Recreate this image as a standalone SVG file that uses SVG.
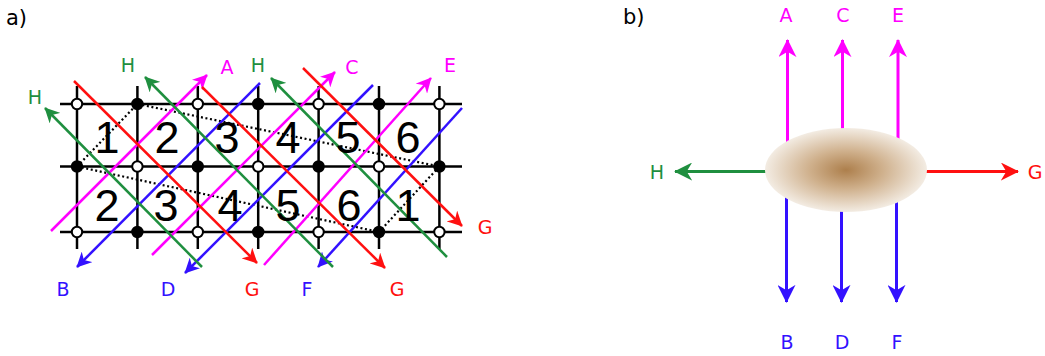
<svg xmlns="http://www.w3.org/2000/svg" width="1045" height="356" viewBox="0 0 1045 356">
<style>
.grid{stroke:#000;stroke-width:2.5;fill:none}
.dot{stroke:#000;stroke-width:2.2;stroke-dasharray:2 2.6;fill:none}
.m{stroke:#ff00ff;stroke-width:2.5;fill:none}
.r{stroke:#ff1010;stroke-width:2.5;fill:none}
.g{stroke:#1f8f3f;stroke-width:2.5;fill:none}
.b{stroke:#3311ff;stroke-width:2.5;fill:none}
.thick{stroke-width:3}
.open{fill:#fff;stroke:#000;stroke-width:2}
.fill{fill:#000;stroke:#000;stroke-width:2}
.lbl{font-family:"DejaVu Sans",sans-serif;font-size:19px;text-anchor:middle}
.num{font-family:"Liberation Sans",sans-serif;font-size:45px;text-anchor:middle;fill:#000}
.pan{font-family:"DejaVu Sans",sans-serif;font-size:21px;fill:#000}
.tm{fill:#ff00ff}.tr{fill:#ff1010}.tg{fill:#1f8f3f}.tb{fill:#3311ff}
</style>
<defs>
<marker id="am" viewBox="0 0 10 10" refX="9.5" refY="5" markerWidth="6" markerHeight="6" orient="auto" markerUnits="strokeWidth"><path d="M0,0 L10,5 L0,10 L3,5 z" fill="#ff00ff"/></marker>
<marker id="ar" viewBox="0 0 10 10" refX="9.5" refY="5" markerWidth="6" markerHeight="6" orient="auto" markerUnits="strokeWidth"><path d="M0,0 L10,5 L0,10 L3,5 z" fill="#ff1010"/></marker>
<marker id="ag" viewBox="0 0 10 10" refX="9.5" refY="5" markerWidth="6" markerHeight="6" orient="auto" markerUnits="strokeWidth"><path d="M0,0 L10,5 L0,10 L3,5 z" fill="#1f8f3f"/></marker>
<marker id="ab" viewBox="0 0 10 10" refX="9.5" refY="5" markerWidth="6" markerHeight="6" orient="auto" markerUnits="strokeWidth"><path d="M0,0 L10,5 L0,10 L3,5 z" fill="#3311ff"/></marker>
<radialGradient id="blob" cx="0.5" cy="0.5" r="0.5">
<stop offset="0" stop-color="#ad7f4c"/>
<stop offset="0.45" stop-color="#cfb08c"/>
<stop offset="1" stop-color="#f3ece3"/>
</radialGradient>
</defs>

<text class="pan" x="6" y="25">a)</text>
<text class="pan" x="623" y="24">b)</text>

<g id="grid">
<line class="grid" x1="60" y1="104" x2="462" y2="104"/>
<line class="grid" x1="60" y1="166.5" x2="462" y2="166.5"/>
<line class="grid" x1="60" y1="232" x2="462" y2="232"/>
<line class="grid" x1="77" y1="86" x2="77" y2="249"/>
<line class="grid" x1="137.4" y1="86" x2="137.4" y2="249"/>
<line class="grid" x1="197.8" y1="86" x2="197.8" y2="249"/>
<line class="grid" x1="258.2" y1="86" x2="258.2" y2="249"/>
<line class="grid" x1="318.6" y1="86" x2="318.6" y2="249"/>
<line class="grid" x1="379" y1="86" x2="379" y2="249"/>
<line class="grid" x1="439.4" y1="86" x2="439.4" y2="249"/>
</g>

<g id="dotted">
<path class="dot" d="M77,166.5 L137.4,104 L439.4,166.5 L379,232 Z"/>
</g>

<g id="connectors">
<line class="m" x1="51" y1="231" x2="207" y2="75" marker-end="url(#am)"/>
<line class="m" x1="152" y1="255" x2="335" y2="72" marker-end="url(#am)"/>
<line class="m" x1="264" y1="265" x2="431" y2="78" marker-end="url(#am)"/>
<line class="b" x1="260" y1="83" x2="77" y2="267" marker-end="url(#ab)"/>
<line class="b" x1="373" y1="85" x2="185" y2="273" marker-end="url(#ab)"/>
<line class="b" x1="462" y1="108" x2="318" y2="267" marker-end="url(#ab)"/>
<line class="g" x1="202" y1="267" x2="45" y2="108" marker-end="url(#ag)"/>
<line class="g" x1="333" y1="267" x2="145" y2="77" marker-end="url(#ag)"/>
<line class="g" x1="447" y1="257" x2="271" y2="78" marker-end="url(#ag)"/>
<line class="r" x1="74" y1="81" x2="257" y2="263" marker-end="url(#ar)"/>
<line class="r" x1="202" y1="87" x2="385" y2="268" marker-end="url(#ar)"/>
<line class="r" x1="303" y1="68" x2="462" y2="226" marker-end="url(#ar)"/>

<line class="m thick" x1="787.5" y1="170" x2="787.5" y2="40" marker-end="url(#am)"/>
<line class="m thick" x1="842.5" y1="170" x2="842.5" y2="40" marker-end="url(#am)"/>
<line class="m thick" x1="898" y1="170" x2="898" y2="40" marker-end="url(#am)"/>
<line class="b thick" x1="786.5" y1="170" x2="786.5" y2="302" marker-end="url(#ab)"/>
<line class="b thick" x1="841.5" y1="170" x2="841.5" y2="302" marker-end="url(#ab)"/>
<line class="b thick" x1="896.5" y1="170" x2="896.5" y2="302" marker-end="url(#ab)"/>
<line class="g thick" x1="846" y1="171.5" x2="675" y2="171.5" marker-end="url(#ag)"/>
<line class="r thick" x1="846" y1="171.5" x2="1018" y2="171.5" marker-end="url(#ar)"/>
</g>

<g id="nodes">
<circle class="open" cx="77" cy="104" r="5.2"/>
<circle class="fill" cx="137.4" cy="104" r="5.2"/>
<circle class="open" cx="197.8" cy="104" r="5.2"/>
<circle class="fill" cx="258.2" cy="104" r="5.2"/>
<circle class="open" cx="318.6" cy="104" r="5.2"/>
<circle class="fill" cx="379" cy="104" r="5.2"/>
<circle class="open" cx="439.4" cy="104" r="5.2"/>
<circle class="fill" cx="77" cy="166.5" r="5.2"/>
<circle class="open" cx="137.4" cy="166.5" r="5.2"/>
<circle class="fill" cx="197.8" cy="166.5" r="5.2"/>
<circle class="open" cx="258.2" cy="166.5" r="5.2"/>
<circle class="fill" cx="318.6" cy="166.5" r="5.2"/>
<circle class="open" cx="379" cy="166.5" r="5.2"/>
<circle class="fill" cx="439.4" cy="166.5" r="5.2"/>
<circle class="open" cx="77" cy="232" r="5.2"/>
<circle class="fill" cx="137.4" cy="232" r="5.2"/>
<circle class="open" cx="197.8" cy="232" r="5.2"/>
<circle class="fill" cx="258.2" cy="232" r="5.2"/>
<circle class="open" cx="318.6" cy="232" r="5.2"/>
<circle class="fill" cx="379" cy="232" r="5.2"/>
<circle class="open" cx="439.4" cy="232" r="5.2"/>
</g>

<g id="cells">
<text class="num" x="107" y="153">1</text>
<text class="num" x="167" y="153">2</text>
<text class="num" x="227" y="153">3</text>
<text class="num" x="288" y="153">4</text>
<text class="num" x="348" y="153">5</text>
<text class="num" x="408" y="153">6</text>
<text class="num" x="107" y="221">2</text>
<text class="num" x="166" y="221">3</text>
<text class="num" x="230" y="221">4</text>
<text class="num" x="288" y="221">5</text>
<text class="num" x="349" y="221">6</text>
<text class="num" x="408" y="221">1</text>
</g>

<g id="labels-a">
<text class="lbl tg" x="35" y="104">H</text>
<text class="lbl tg" x="128" y="72">H</text>
<text class="lbl tm" x="227" y="74">A</text>
<text class="lbl tg" x="258" y="72">H</text>
<text class="lbl tm" x="352" y="74">C</text>
<text class="lbl tm" x="450" y="72">E</text>
<text class="lbl tr" x="485" y="234">G</text>
<text class="lbl tb" x="63" y="296">B</text>
<text class="lbl tb" x="168" y="296">D</text>
<text class="lbl tr" x="252" y="296">G</text>
<text class="lbl tb" x="307" y="296">F</text>
<text class="lbl tr" x="397" y="296">G</text>
</g>

<g id="blob">
<ellipse cx="846" cy="170" rx="81" ry="42" fill="url(#blob)"/>
</g>

<g id="labels-b">
<text class="lbl tm" x="786" y="22">A</text>
<text class="lbl tm" x="843" y="22">C</text>
<text class="lbl tm" x="898" y="22">E</text>
<text class="lbl tb" x="787" y="349">B</text>
<text class="lbl tb" x="842" y="349">D</text>
<text class="lbl tb" x="897" y="349">F</text>
<text class="lbl tg" x="657" y="179">H</text>
<text class="lbl tr" x="1035" y="179">G</text>
</g>
</svg>
